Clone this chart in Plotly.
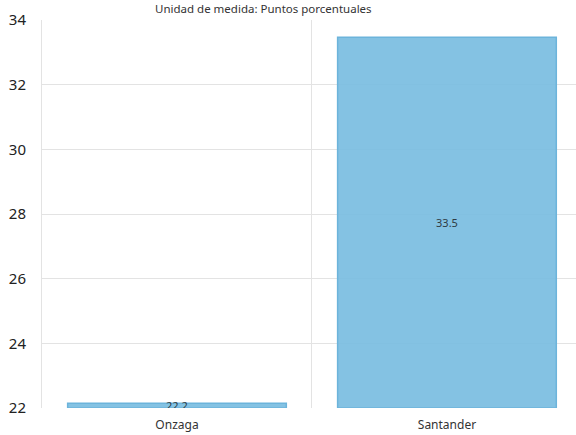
import plotly.graph_objects as go

categories = ["Onzaga", "Santander"]
values = [22.15, 33.47]
labels = ["22.2", "33.5"]
y_ticks = [22, 24, 26, 28, 30, 32, 34]
y_min, y_max = 22, 34

fig = go.Figure()
fig.add_trace(go.Bar(
    x=categories, y=[v - y_min for v in values], base=y_min, text=labels,
    textposition="inside", insidetextanchor="middle",
    textfont=dict(size=11, color="#2f3b44", family="Noto Sans"),
    marker=dict(color="rgba(119,187,224,0.9)", line=dict(color="#6cb4db", width=1.5)),
    width=0.81, constraintext="none", cliponaxis=True,
))
fig.update_layout(
    width=576, height=435,
    margin=dict(l=42, r=0, t=20, b=27, autoexpand=False),
    paper_bgcolor="white", plot_bgcolor="white",
    showlegend=False,
    uniformtext=dict(minsize=11, mode="show"),
    font=dict(family="Noto Sans", color="#333333"),
    annotations=[dict(text="Unidad de medida: Puntos porcentuales",
                      x=(263 - 42) / 534, xref="paper", y=1 + 12 / 388, yref="paper",
                      xanchor="center", yanchor="middle", showarrow=False,
                      font=dict(size=11.5, color="#333333"))],
)
fig.update_xaxes(range=[-0.5, 1.478], tickson="boundaries", showgrid=True, gridcolor="#e3e3e3",
                 ticks="", showline=False, zeroline=False, automargin=False,
                 tickfont=dict(size=12, color="#333333"), ticklabelstandoff=8)
fig.update_yaxes(range=[y_min, y_max], tickvals=y_ticks, showgrid=True, gridcolor="#e3e3e3",
                 showline=True, linecolor="#e3e3e3", linewidth=1,
                 zeroline=False, ticks="", automargin=False,
                 tickfont=dict(size=15, color="#222222"), ticklabelstandoff=12)
fig.write_html("out.html", config={"displayModeBar": False},
               post_script="document.body.style.margin='0';document.body.style.padding='0';")
